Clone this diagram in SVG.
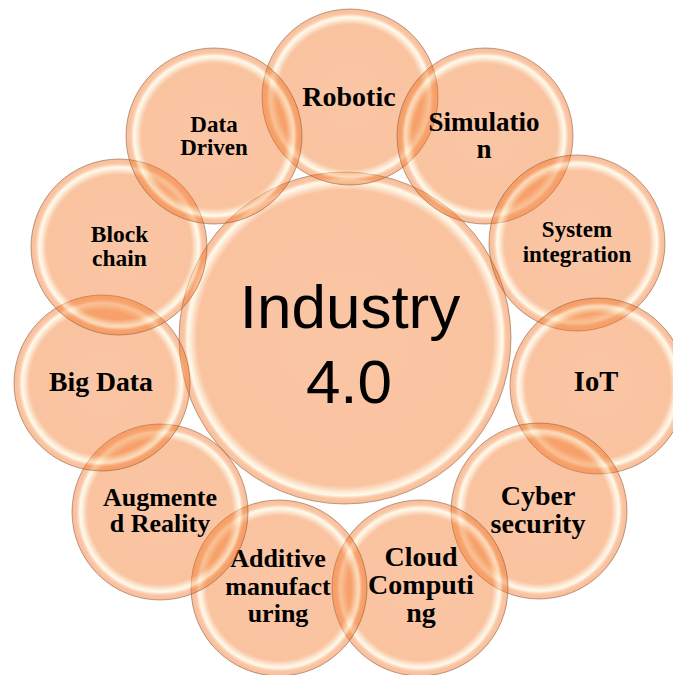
<svg xmlns="http://www.w3.org/2000/svg" width="673" height="675" viewBox="0 0 673 675">
<defs>
<radialGradient id="gs" cx="0.5" cy="0.5" r="0.5">
<stop offset="0" stop-color="#F3701D" stop-opacity="0.40"/>
<stop offset="0.82" stop-color="#F3701D" stop-opacity="0.42"/>
<stop offset="0.88" stop-color="#FBD9B0" stop-opacity="0.5"/>
<stop offset="0.91" stop-color="#FFF4D6" stop-opacity="0.5"/>
<stop offset="0.95" stop-color="#F3701D" stop-opacity="0.40"/>
<stop offset="1" stop-color="#EE6C1C" stop-opacity="0.45"/>
</radialGradient>
<radialGradient id="gc" cx="0.5" cy="0.5" r="0.5">
<stop offset="0" stop-color="#F3701D" stop-opacity="0.40"/>
<stop offset="0.89" stop-color="#F3701D" stop-opacity="0.42"/>
<stop offset="0.93" stop-color="#FBD9B0" stop-opacity="0.5"/>
<stop offset="0.95" stop-color="#FFF4D6" stop-opacity="0.5"/>
<stop offset="0.97" stop-color="#F3701D" stop-opacity="0.40"/>
<stop offset="1" stop-color="#EE6C1C" stop-opacity="0.45"/>
</radialGradient>
</defs>
<style>
.b{fill:url(#gs);stroke:#8A5A3A;stroke-opacity:0.55;stroke-width:1}
.c{fill:url(#gc);stroke:#8A5A3A;stroke-opacity:0.55;stroke-width:1}
.t{font-family:"Liberation Serif","Times New Roman",serif;font-weight:bold;fill:#000;text-anchor:middle}
.m{font-family:"Liberation Sans",Arial,sans-serif;font-size:62px;fill:#000;text-anchor:middle}
</style>
<g id="connectors"/>
<g id="center"><circle class="c" cx="345" cy="338" r="166"/>
<text class="m" x="350" y="328">Industry</text><text class="m" x="349" y="403">4.0</text></g>
<g id="robotic"><circle class="b" cx="350" cy="97" r="88"/>
<text class="t" x="349" y="106" font-size="28">Robotic</text></g>
<g id="simulation"><circle class="b" cx="485" cy="136" r="88"/>
<text class="t" x="484" y="131" font-size="27">Simulatio</text><text class="t" x="484" y="158" font-size="27">n</text></g>
<g id="system-integration"><circle class="b" cx="577" cy="243" r="88"/>
<text class="t" x="577" y="237" font-size="23">System</text><text class="t" x="577" y="262" font-size="23">integration</text></g>
<g id="iot"><circle class="b" cx="598" cy="386" r="88"/>
<text class="t" x="596" y="391" font-size="28.5">IoT</text></g>
<g id="cyber-security"><circle class="b" cx="539" cy="511" r="88"/>
<text class="t" x="538" y="505" font-size="28">Cyber</text><text class="t" x="538" y="533" font-size="28">security</text></g>
<g id="cloud-computing"><circle class="b" cx="420" cy="588" r="88"/>
<text class="t" x="421" y="566" font-size="28">Cloud</text><text class="t" x="421" y="594" font-size="28">Computi</text><text class="t" x="421" y="622" font-size="28">ng</text></g>
<g id="additive-manufacturing"><circle class="b" cx="279" cy="588" r="88"/>
<text class="t" x="278" y="567" font-size="26">Additive</text><text class="t" x="278" y="595" font-size="26">manufact</text><text class="t" x="278" y="622" font-size="26">uring</text></g>
<g id="augmented-reality"><circle class="b" cx="160" cy="512" r="88"/>
<text class="t" x="160" y="506" font-size="26">Augmente</text><text class="t" x="160" y="532" font-size="26">d Reality</text></g>
<g id="big-data"><circle class="b" cx="102" cy="383" r="88"/>
<text class="t" x="101" y="391" font-size="27.7">Big Data</text></g>
<g id="block-chain"><circle class="b" cx="119" cy="247" r="88"/>
<text class="t" x="119.5" y="242" font-size="23.5">Block</text><text class="t" x="119.5" y="266" font-size="23.5">chain</text></g>
<g id="data-driven"><circle class="b" cx="214" cy="136" r="88"/>
<text class="t" x="214" y="132" font-size="23">Data</text><text class="t" x="214" y="155" font-size="23">Driven</text></g>
</svg>
